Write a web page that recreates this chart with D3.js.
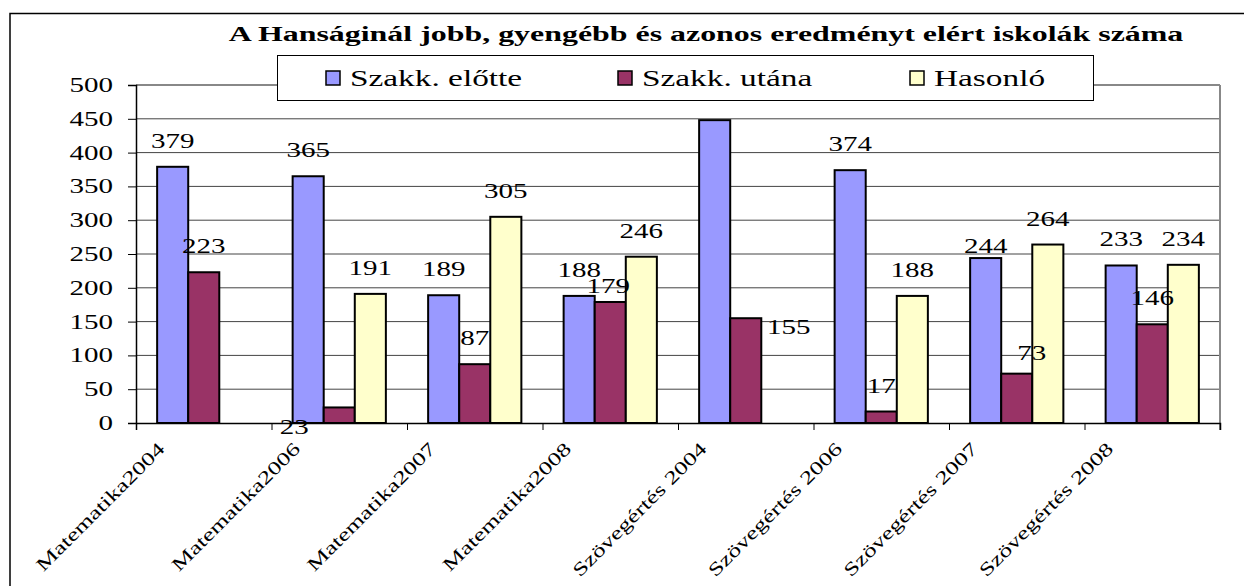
<!DOCTYPE html>
<html>
<head>
<meta charset="utf-8">
<script src="https://cdn.jsdelivr.net/npm/d3@7"></script>
<style>
  body { margin: 0; background: #fff; }
  svg text { font-family: "Liberation Serif", "Times New Roman", serif; fill: #000; }
</style>
</head>
<body>
<div id="chart"></div>
<script>
const categories = ["Matematika2004", "Matematika2006", "Matematika2007", "Matematika2008",
                    "Szövegértés 2004", "Szövegértés 2006", "Szövegértés 2007", "Szövegértés 2008"];
const seriesNames = ["Szakk. előtte", "Szakk. utána", "Hasonló"];
const elotte = [379, 365, 189, 188, 448, 374, 244, 233];
const utana  = [223, 23, 87, 179, 155, 17, 73, 146];
const hasonlo = [null, 191, 305, 246, null, 188, 264, 234];
const yTicks = [0, 50, 100, 150, 200, 250, 300, 350, 400, 450, 500];
const title = "A Hanságinál jobb, gyengébb és azonos eredményt elért iskolák száma";

// labels that were dragged by hand in the original (series, category, px shift)
// the one under the legend is hidden there, so it is left out
const labelShift = [
  {s: 1, c: 1, dx: -45, dy: 46},
  {s: 1, c: 3, dx: -2, dy: 10},
  {s: 1, c: 4, dx: 43, dy: 35},
  {s: 1, c: 6, dx: 15, dy: 5},
  {s: 0, c: 6, dx: 0, dy: 14},
  {s: 0, c: 4, hidden: true}
];

const colors = ["#9999ff", "#993366", "#ffffcc"];
const seriesValues = [elotte, utana, hasonlo];

const W = 1244, H = 586;
const plot = {left: 136, right: 1220, top: 85, bottom: 423};
const SX = 1.45; // the original picture was stretched sideways, text too

const svg = d3.select("#chart").append("svg")
    .attr("width", W).attr("height", H);

// outer frame (runs off the right/bottom edge like the source)
svg.append("rect")
    .attr("x", 10).attr("y", 13.5)
    .attr("width", 1400).attr("height", 800)
    .attr("fill", "none").attr("stroke", "#000").attr("stroke-width", 1.5);

const x0 = d3.scaleBand().domain(categories).range([plot.left, plot.right]).padding(0);
const x1 = d3.scaleBand().domain(seriesNames).range([0, x0.bandwidth()])
    .paddingInner(0).paddingOuter(0.68);
const y = d3.scaleLinear().domain([0, 500]).range([plot.bottom, plot.top]);
const xEdge = d3.scaleLinear().domain([0, categories.length]).range([plot.left, plot.right]);

function stretched(sel, tx, ty, extra, sx) {
    return sel.attr("transform", (d, i) =>
        `translate(${tx(d, i)},${ty(d, i)})${extra || ""} scale(${sx || SX},1)`);
}

// gridlines
svg.append("g")
    .selectAll("line")
    .data(yTicks.filter(t => t > 0))
    .enter().append("line")
    .attr("x1", plot.left).attr("x2", plot.right)
    .attr("y1", d => y(d)).attr("y2", d => y(d))
    .attr("stroke", d => d === 500 ? "#888" : "#444")
    .attr("stroke-width", d => d === 500 ? 2 : 1);

// right plot border
svg.append("line")
    .attr("x1", plot.right).attr("x2", plot.right)
    .attr("y1", plot.top).attr("y2", plot.bottom + 7)
    .attr("stroke", "#888").attr("stroke-width", 2);

// bars
const rows = [];
categories.forEach((c, ci) => seriesNames.forEach((s, si) => {
    rows.push({cat: c, ci: ci, ser: s, si: si, value: seriesValues[si][ci]});
}));
const present = rows.filter(d => d.value !== null);

svg.append("g")
    .selectAll("rect")
    .data(present)
    .enter().append("rect")
    .attr("x", d => x0(d.cat) + x1(d.ser))
    .attr("y", d => y(d.value))
    .attr("width", x1.bandwidth())
    .attr("height", d => y(0) - y(d.value))
    .attr("fill", d => colors[d.si])
    .attr("stroke", "#000").attr("stroke-width", 2);

// axes
const yAxis = d3.axisLeft(y).tickValues(yTicks).tickSize(8).tickFormat("");
svg.append("g")
    .attr("transform", `translate(${plot.left},0)`)
    .call(yAxis)
    .call(g => g.select(".domain").attr("stroke", "#000").attr("stroke-width", 1.5))
    .call(g => g.selectAll(".tick line").attr("stroke", "#000"));

const xAxis = d3.axisBottom(xEdge).tickValues(d3.range(categories.length + 1)).tickSize(7).tickFormat("");
svg.append("g")
    .attr("transform", `translate(0,${plot.bottom})`)
    .call(xAxis)
    .call(g => g.select(".domain").attr("stroke", "#000").attr("stroke-width", 1.5))
    .call(g => g.selectAll(".tick line").attr("stroke", "#000"));

// y tick labels
stretched(svg.append("g").selectAll("text").data(yTicks).enter().append("text"),
        () => plot.left - 23, d => y(d))
    .attr("text-anchor", "end")
    .attr("dy", "0.35em")
    .attr("font-size", 20)
    .text(d => d);

// category labels, rotated
stretched(svg.append("g").selectAll("text").data(categories).enter().append("text"),
        d => x0(d) + x0.bandwidth() / 2 - 38, () => plot.bottom + 27, " rotate(-45)", 1.38)
    .attr("text-anchor", "end")
    .attr("font-size", 18.5)
    .text(d => d);

// value labels
function shiftFor(d) {
    return labelShift.find(l => l.s === d.si && l.c === d.ci) || {dx: 0, dy: 0};
}
const labelled = present.filter(d => !shiftFor(d).hidden);
stretched(svg.append("g").selectAll("text").data(labelled).enter().append("text"),
        d => x0(d.cat) + x1(d.ser) + x1.bandwidth() / 2 + shiftFor(d).dx,
        d => y(d.value) - 26 + shiftFor(d).dy)
    .attr("text-anchor", "middle")
    .attr("dy", "0.35em")
    .attr("font-size", 20)
    .text(d => d.value);

// title
stretched(svg.append("g").selectAll("text").data([title]).enter().append("text"),
        () => 706, () => 41, "", 1.52)
    .attr("text-anchor", "middle")
    .attr("font-size", 21)
    .attr("font-weight", "bold")
    .text(d => d);

// legend
const legend = svg.append("g");
legend.append("rect")
    .attr("x", 277.5).attr("y", 55.5)
    .attr("width", 816).attr("height", 45)
    .attr("fill", "#fff").attr("stroke", "#000").attr("stroke-width", 1);

const legendX = d3.scalePoint().domain(seriesNames).range([326, 910]);
const item = legend.selectAll("g.item")
    .data(seriesNames)
    .enter().append("g")
    .attr("class", "item")
    .attr("transform", d => `translate(${legendX(d)},78)`);
item.append("rect")
    .attr("x", 0).attr("y", -7)
    .attr("width", 14).attr("height", 14)
    .attr("fill", (d, i) => colors[i])
    .attr("stroke", "#000").attr("stroke-width", 1.5);
stretched(item.append("text"), () => 24, () => 0)
    .attr("dy", "0.35em")
    .attr("font-size", 23)
    .text(d => d);
</script>
</body>
</html>
